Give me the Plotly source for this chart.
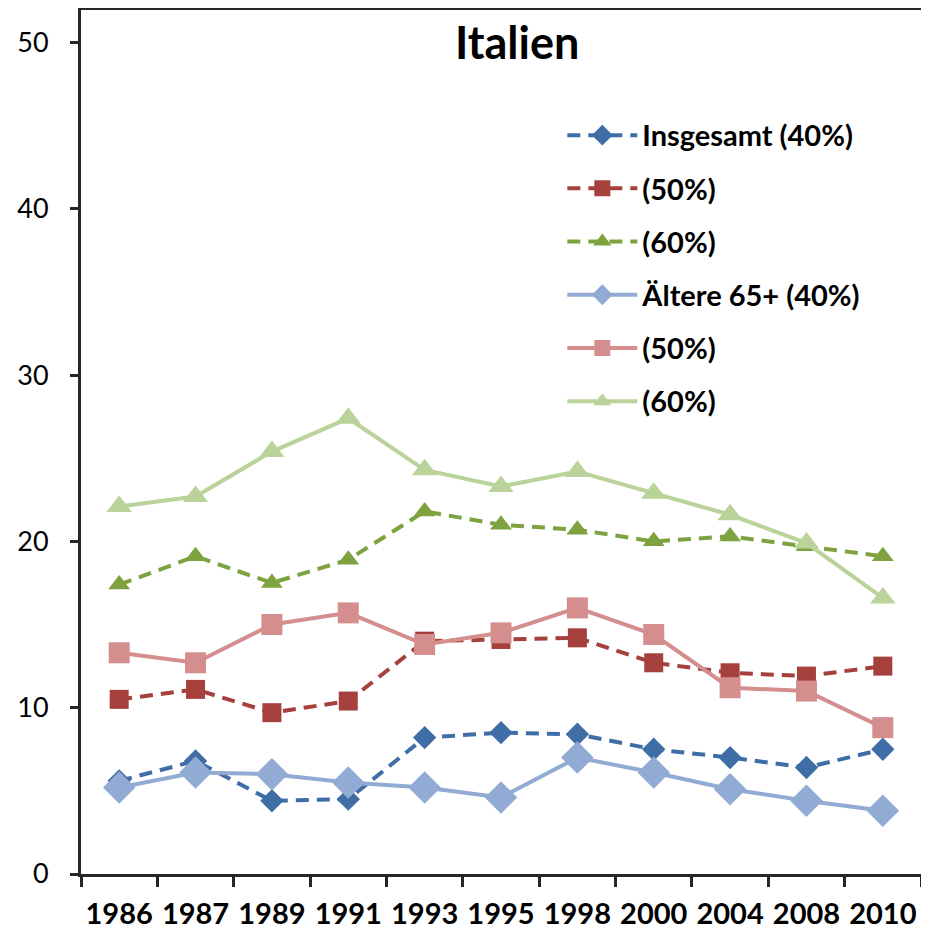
import plotly.graph_objects as go

years = ["1986", "1987", "1989", "1991", "1993", "1995", "1998", "2000", "2004", "2008", "2010"]

ins_40 = [5.6, 6.8, 4.4, 4.5, 8.2, 8.5, 8.4, 7.5, 7.0, 6.4, 7.5]
ins_50 = [10.5, 11.1, 9.7, 10.4, 14.0, 14.1, 14.2, 12.7, 12.1, 11.9, 12.5]
ins_60 = [17.4, 19.1, 17.5, 18.9, 21.8, 21.0, 20.7, 20.0, 20.3, 19.7, 19.1]
alt_40 = [5.2, 6.1, 6.0, 5.5, 5.2, 4.6, 7.0, 6.1, 5.1, 4.4, 3.8]
alt_50 = [13.3, 12.7, 15.0, 15.7, 13.8, 14.5, 16.0, 14.4, 11.2, 11.0, 8.8]
alt_60 = [22.1, 22.7, 25.4, 27.4, 24.3, 23.3, 24.2, 22.9, 21.6, 19.9, 16.6]

names = ["Insgesamt (40%)", "(50%)", "(60%)", "Ältere 65+ (40%)", "(50%)", "(60%)"]
series = [ins_40, ins_50, ins_60, alt_40, alt_50, alt_60]
colors = ["#3F6EA6", "#A6403D", "#7DA23F", "#91ABD4", "#D48E8E", "#B9D39A"]
symbols = ["diamond", "square", "triangle-up", "diamond", "square", "triangle-up"]
sizes = [18, 19, 19, 25, 21, 22]
dashes = ["13px,8px"] * 3 + ["solid"] * 3

fig = go.Figure()
for i in range(6):
    fig.add_trace(go.Scatter(
        x=years, y=series[i], name=names[i], mode="lines+markers",
        line=dict(color=colors[i], width=4, dash=dashes[i]),
        marker=dict(symbol=symbols[i], size=sizes[i], color=colors[i],
                    line=dict(width=0)),
        legendgroup=str(i),
    ))

fig.update_layout(
    width=929, height=929,
    margin=dict(l=73, r=16, t=2, b=63, autoexpand=False),
    paper_bgcolor="white", plot_bgcolor="white",
    font=dict(family="Lato, 'Open Sans', sans-serif", color="black"),
    showlegend=True,
    legend=dict(
        x=0.573, y=0.8845, xanchor="left", yanchor="top",
        font=dict(size=29, family="Lato", color="black", weight="bold"),
        itemwidth=70, tracegroupgap=12.5, traceorder="grouped",
        bgcolor="rgba(0,0,0,0)",
    ),
    annotations=[dict(
        text="<b>Italien</b>", x=0.519, y=0.963, xref="paper", yref="paper",
        xanchor="center", yanchor="middle", showarrow=False,
        font=dict(size=45, family="Lato", color="black"),
    )],
)

fig.update_xaxes(
    type="category", range=[-0.5, len(years) - 0.5],
    showgrid=False, showline=True, linecolor="#262626",
    linewidth=3, mirror=True, ticks="outside", tickson="boundaries",
    ticklen=10, tickwidth=3, tickcolor="#262626", automargin=False,
    tickangle=0,
    tickfont=dict(size=29, family="Lato", color="black", weight="bold"),
    ticklabelstandoff=12,
)
fig.update_yaxes(
    range=[0, 51.95], tickvals=[0, 10, 20, 30, 40, 50], showgrid=False,
    zeroline=False, showline=True, linecolor="#262626", linewidth=3,
    mirror=True, ticks="outside", ticklen=8, tickwidth=3, tickcolor="#262626",
    automargin=False,
    tickfont=dict(size=27, family="Lato", color="black"),
    ticklabelstandoff=16,
)

fig.write_html("out.html")
